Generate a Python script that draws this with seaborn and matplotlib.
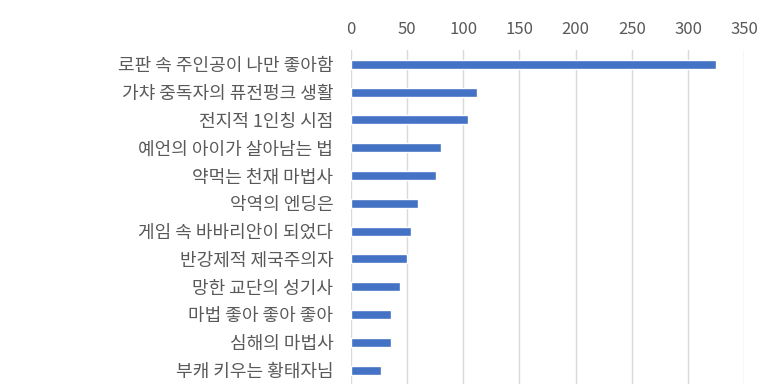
import matplotlib
matplotlib.use("Agg")
import matplotlib.pyplot as plt
import seaborn as sns
import pandas as pd

titles = ["로판 속 주인공이 나만 좋아함", "가챠 중독자의 퓨전펑크 생활", "전지적 1인칭 시점",
          "예언의 아이가 살아남는 법", "약먹는 천재 마법사", "악역의 엔딩은",
          "게임 속 바바리안이 되었다", "반강제적 제국주의자", "망한 교단의 성기사",
          "마법 좋아 좋아 좋아", "심해의 마법사", "부캐 키우는 황태자님"]
values = [325, 112, 104, 80, 76, 60, 54, 50, 44, 36, 36, 27]
x_ticks = [0, 50, 100, 150, 200, 250, 300, 350]

df = pd.DataFrame({"title": titles, "value": values})

sns.set_theme(style="white")
plt.rcParams['font.family'] = ['Noto Sans CJK KR', 'DejaVu Sans']

fig = plt.figure(figsize=(7.72, 3.86), dpi=100)
ax = fig.add_axes([350.7/772, 1 - 384/386, (744.3-350.7)/772, (384-50.4)/386])

sns.barplot(data=df, x="value", y="title", orient="h", color="#4472C4",
            width=0.32, saturation=1, ax=ax, zorder=3)

ax.set_xlim(0, 350)
ax.set_xticks(x_ticks)
ax.set_xticklabels([str(t) for t in x_ticks])
ax.xaxis.tick_top()
ax.xaxis.set_label_position("top")
ax.set_xlabel("")
ax.set_ylabel("")
ax.grid(axis="x", color="#D9D9D9", linewidth=1, zorder=0)
ax.set_axisbelow(True)
for s in ax.spines.values():
    s.set_visible(False)
ax.tick_params(axis="x", length=0, pad=9, labelsize=12, labelcolor="#595959")
ax.tick_params(axis="y", length=0, pad=12.5, labelsize=13, labelcolor="#595959")

fig.savefig("out.png", dpi=100)
